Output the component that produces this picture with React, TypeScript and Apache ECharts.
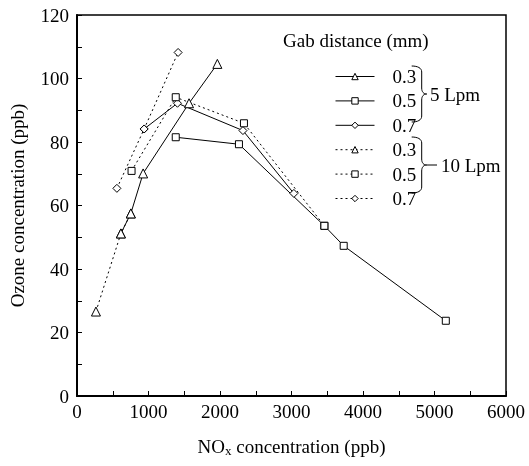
import React, { useEffect, useRef } from "react";
import * as echarts from "echarts";

// ---- data (NOx ppb, ozone ppb) ----
const lpm5_gap03: number[][] = [[614, 51.2], [753, 57.5], [925, 70.1], [1567, 92.2], [1963, 104.6]];
const lpm5_gap05: number[][] = [[1381, 81.5], [2265, 79.3], [3460, 53.6], [3730, 47.3], [5158, 23.7]];
const lpm5_gap07: number[][] = [[939, 84.1], [1405, 92.2], [2321, 83.6], [3033, 63.8]];
const lpm10_gap03: number[][] = [[265, 26.6], [614, 51.2], [753, 57.5]];
const lpm10_gap05: number[][] = [[763, 70.9], [1381, 94.1], [2335, 85.9], [3460, 53.6]];
const lpm10_gap07: number[][] = [[558, 65.4], [939, 84.1], [1414, 108.2]];

const seriesNames = ["5Lpm 0.3", "5Lpm 0.5", "5Lpm 0.7", "10Lpm 0.3", "10Lpm 0.5", "10Lpm 0.7"];
const legendTitle = "Gab distance (mm)";
const groupLabels = ["5 Lpm", "10 Lpm"];
const xAxisName = "{a|NO}{b|x}{a| concentration (ppb)}";
const yAxisName = "Ozone concentration (ppb)";

const BRACE_D = "M0,0 C6,0 10,2 10,6 L10,22 C10,26 12,28 15,28 C12,28 10,30 10,34 L10,50 C10,54 6,56 0,56";
echarts.graphic.registerShape("brace", echarts.graphic.extendPath(BRACE_D, {}));

const FONT = "Liberation Serif";
const FS = 19;

function mk(name: string, data: number[][], symbol: string, size: number, dotted: boolean) {
  return {
    type: "line",
    name,
    data,
    symbol,
    symbolSize: size,
    showSymbol: true,
    animation: false,
    lineStyle: { color: "#000", width: 1, type: dotted ? [2, 3] : "solid" },
    itemStyle: { color: "#fff", borderColor: "#000", borderWidth: 1 },
    emphasis: { disabled: true },
  };
}

export default function App() {
  const ref = useRef<HTMLDivElement>(null);
  useEffect(() => {
    if (!ref.current) return;
    const chart = echarts.init(ref.current, null, { renderer: "svg" });
    const axisCommon = {
      type: "value",
      axisLine: { show: true, onZero: false, lineStyle: { color: "#000", width: 2 } },
      axisTick: { show: true, inside: true, length: 5, lineStyle: { color: "#000", width: 1 } },
      minorTick: { show: true, splitNumber: 2, length: 5, lineStyle: { color: "#000", width: 1 } },
      splitLine: { show: false },
      minorSplitLine: { show: false },
      axisLabel: { color: "#000", fontFamily: FONT, fontSize: FS, formatter: (v: number) => String(v) },
    };
    chart.setOption({
      animation: false,
      grid: {
        left: 76, top: 15, right: 23, bottom: 70,
        show: true, borderColor: "#000", borderWidth: 1.5, backgroundColor: "transparent",
      },
      xAxis: {
        ...axisCommon,
        min: 0, max: 6000, interval: 1000,
        axisLabel: { ...axisCommon.axisLabel, margin: 6 },
        name: xAxisName,
        nameLocation: "middle",
        nameGap: 40,
        nameTextStyle: {
          rich: {
            a: { fontFamily: FONT, fontSize: FS, color: "#000" },
            b: { fontFamily: FONT, fontSize: 13, color: "#000", padding: [8, 0, 0, 0] },
          },
        },
      },
      yAxis: {
        ...axisCommon,
        min: 0, max: 120, interval: 20,
        axisLabel: { ...axisCommon.axisLabel, margin: 8 },
        name: yAxisName,
        nameLocation: "middle",
        nameGap: 50,
        nameTextStyle: { fontFamily: FONT, fontSize: FS, color: "#000" },
      },
      legend: {
        orient: "vertical",
        left: 330,
        top: 62,
        itemWidth: 39,
        itemHeight: 8,
        itemGap: 5.4,
        selectedMode: false,
        data: seriesNames,
        lineStyle: { width: 1 },
        itemStyle: { borderWidth: 1 },
        formatter: (n: string) => "{t|" + n.split(" ")[1] + "}",
        textStyle: {
          rich: { t: { fontFamily: FONT, fontSize: FS, color: "#000", padding: [0, 0, 0, 13], lineHeight: 18 } },
        },
      },
      graphic: [
        {
          type: "text", x: 283, y: 40,
          style: { text: legendTitle, fontFamily: FONT, fontSize: FS, fill: "#000", verticalAlign: "middle" },
        },
        { type: "brace", x: 411.7, y: 66, style: { stroke: "#000", fill: "none", lineWidth: 1 } },
        { type: "brace", x: 411.7, y: 137, style: { stroke: "#000", fill: "none", lineWidth: 1 } },
        { type: "line", shape: { x1: 426.7, y1: 165, x2: 437, y2: 165 }, style: { stroke: "#000", lineWidth: 1 } },
        {
          type: "text", x: 430, y: 94,
          style: { text: groupLabels[0], fontFamily: FONT, fontSize: FS, fill: "#000", verticalAlign: "middle" },
        },
        {
          type: "text", x: 441, y: 165,
          style: { text: groupLabels[1], fontFamily: FONT, fontSize: FS, fill: "#000", verticalAlign: "middle" },
        },
      ],
      series: [
        mk(seriesNames[0], lpm5_gap03, "triangle", 9, false),
        mk(seriesNames[1], lpm5_gap05, "rect", 7, false),
        mk(seriesNames[2], lpm5_gap07, "diamond", 8, false),
        mk(seriesNames[3], lpm10_gap03, "triangle", 9, true),
        mk(seriesNames[4], lpm10_gap05, "rect", 7, true),
        mk(seriesNames[5], lpm10_gap07, "diamond", 8, true),
      ],
    });
    return () => chart.dispose();
  }, []);
  return <div ref={ref} style={{ position: "fixed", left: 0, top: 0, width: 529, height: 466 }} />;
}
